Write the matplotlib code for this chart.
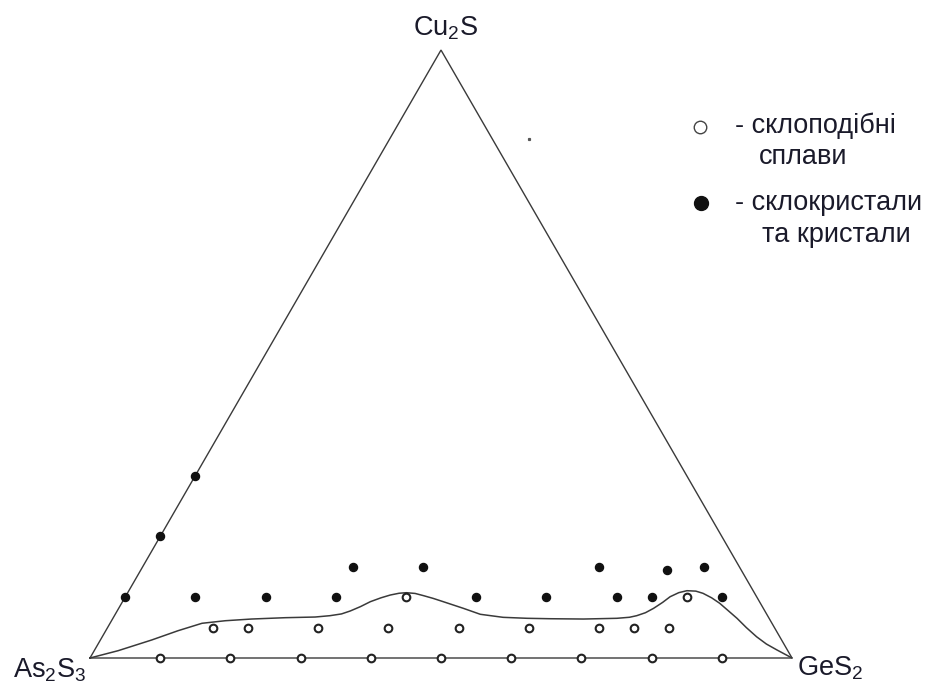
import numpy as np
import matplotlib
matplotlib.use("Agg")
import matplotlib.pyplot as plt

plt.rcParams['font.family'] = ['Liberation Sans', 'DejaVu Sans']
plt.rcParams['mathtext.fontset'] = 'custom'
plt.rcParams['mathtext.rm'] = 'Liberation Sans'
plt.rcParams['mathtext.it'] = 'Liberation Sans'

# compositions: fraction of GeS2 and Cu2S (rest is As2S3)
glass_ges2 = [0.1, 0.2, 0.3, 0.4, 0.5, 0.6, 0.7, 0.8, 0.9,
              0.15, 0.2, 0.3, 0.4, 0.5, 0.6, 0.7, 0.75, 0.8,
              0.4, 0.8]
glass_cu2s = [0, 0, 0, 0, 0, 0, 0, 0, 0,
              0.05, 0.05, 0.05, 0.05, 0.05, 0.05, 0.05, 0.05, 0.05,
              0.1, 0.1]

cryst_ges2 = [0, 0, 0,
              0.1, 0.2, 0.3, 0.5, 0.6, 0.7, 0.75, 0.85,
              0.3, 0.4, 0.65, 0.75, 0.8]
cryst_cu2s = [0.1, 0.2, 0.3,
              0.1, 0.1, 0.1, 0.1, 0.1, 0.1, 0.1, 0.1,
              0.15, 0.15, 0.15, 0.145, 0.15]

# glass-forming boundary
bound_ges2 = [0, 0.034, 0.073, 0.103, 0.131, 0.162, 0.198, 0.245, 0.287, 0.307,
              0.322, 0.332, 0.343, 0.353, 0.365, 0.376, 0.387, 0.397, 0.410, 0.424,
              0.440, 0.457, 0.491, 0.520, 0.555,
              0.590, 0.623, 0.671, 0.718, 0.735, 0.744, 0.754, 0.762, 0.770, 0.776,
              0.785, 0.795, 0.808, 0.820, 0.836,
              0.852, 0.870, 0.889, 0.910, 0.932, 0.952, 0.972, 1.0]
bound_cu2s = [0, 0.012, 0.0296, 0.0449, 0.0571, 0.0613, 0.0641, 0.0663, 0.0674, 0.0696,
              0.0725, 0.0773, 0.0845, 0.0926, 0.0990, 0.1036, 0.1065, 0.1074, 0.1062, 0.1025,
              0.0980, 0.0926, 0.0817, 0.0719, 0.0669,
              0.0653, 0.0646, 0.0641, 0.0653, 0.0670, 0.0696, 0.0745, 0.0817, 0.0915, 0.1008,
              0.1075, 0.1107, 0.1100, 0.1064, 0.0990,
              0.0900, 0.0780, 0.0653, 0.0500, 0.035, 0.0230, 0.0132, 0]

speck_ges2 = [0.199]
speck_cu2s = [0.854]

vertex_labels = ['As$_2$S$_3$', 'GeS$_2$', 'Cu$_2$S']
legend_labels = ['- склоподібні', 'сплави', '- склокристали', 'та кристали']


def to_xy(g, c):
    g = np.asarray(g, dtype=float)
    c = np.asarray(c, dtype=float)
    return g + c / 2, c * np.sqrt(3) / 2


fig = plt.figure(figsize=(9.25, 6.88), dpi=100)
ax = fig.add_axes([0, 0, 1, 1])
ax.set_xlim(-90 / 702, 835 / 702)
ax.set_ylim(-30 / 702, 658 / 702)
ax.axis('off')

lc = '#3a3a3a'
tx, ty = to_xy([0, 1, 0, 0], [0, 0, 1, 0])
ax.plot(tx, ty, color=lc, lw=1.0, solid_joinstyle='miter')

bx, by = to_xy(bound_ges2, bound_cu2s)
ax.plot(bx, by, color=lc, lw=1.1, solid_joinstyle='round')

gx, gy = to_xy(glass_ges2, glass_cu2s)
ax.plot(gx, gy, 'o', ms=5.5, mfc='white', mec='#222222', mew=1.5, ls='none')

cx, cy = to_xy(cryst_ges2, cryst_cu2s)
ax.plot(cx, cy, 'o', ms=5.8, color='#111111', ls='none')

sx, sy = to_xy(speck_ges2, speck_cu2s)
ax.plot(sx, sy, 's', ms=1.3, color='#555555', ls='none')

fs = 19.5
ax.text(13 / 925, 1 - 677 / 688, vertex_labels[0], transform=ax.transAxes,
        fontsize=fs, ha='left', va='baseline', color='#1a1a2a')
ax.text(797 / 925, 1 - 675 / 688, vertex_labels[1], transform=ax.transAxes,
        fontsize=fs, ha='left', va='baseline', color='#1a1a2a')
ax.text(446 / 925, 1 - 35 / 688, vertex_labels[2], transform=ax.transAxes,
        fontsize=fs, ha='center', va='baseline', color='#1a1a2a')

# legend
ax.plot([700 / 925], [1 - 127 / 688], 'o', ms=9, mfc='white', mec='#444444',
        mew=1.0, transform=ax.transAxes)
ax.plot([701 / 925], [1 - 203 / 688], 'o', ms=10, color='#111111',
        transform=ax.transAxes)
leg_x = [735, 759, 735, 762]
leg_y = [126, 157, 203, 235]
for lab, lx, ly in zip(legend_labels, leg_x, leg_y):
    ax.text(lx / 925, 1 - ly / 688, lab, transform=ax.transAxes,
            fontsize=fs, ha='left', va='center', color='#1a1a2a')

fig.savefig('out.png', dpi=100)
